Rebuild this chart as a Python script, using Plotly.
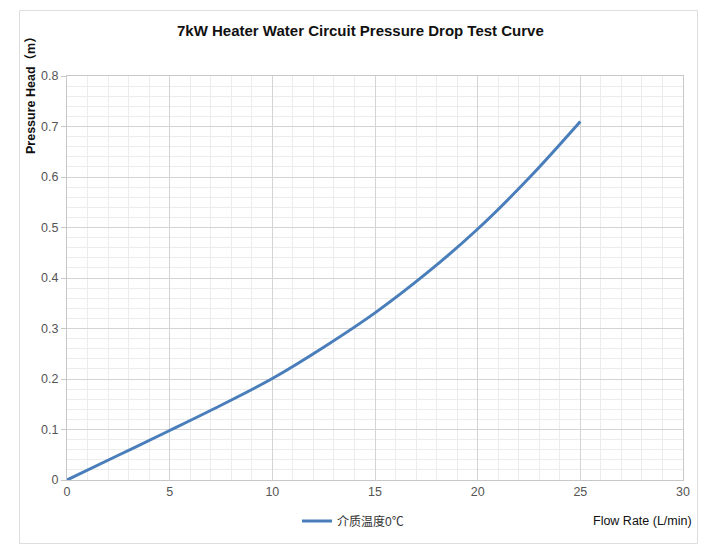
import plotly.graph_objects as go

flow_rate = [0, 2.5, 5, 7.5, 10, 12.5, 15, 17.5, 20, 22.5, 25]
pressure_head = [0, 0.049, 0.098, 0.148, 0.201, 0.263, 0.331, 0.409, 0.497, 0.598, 0.71]
series_name = "介质温度0℃"
title_text = "7kW Heater Water Circuit Pressure Drop Test Curve"
x_title = "Flow Rate (L/min)"
y_title = "Pressure Head（m）"

W, H = 718, 552
L, R, T, B = 67, 35, 76, 72
pw, ph = W - L - R, H - T - B

def px_x(p):
    return (p - L) / pw

def px_y(p):
    return (H - B - p) / ph

FONT = "Liberation Sans, Arial, Noto Sans CJK SC, sans-serif"

fig = go.Figure()
fig.add_trace(go.Scatter(
    x=flow_rate, y=pressure_head, mode="lines", name=series_name,
    line=dict(color="#4a7ebb", width=3, shape="spline", smoothing=1.0),
))

fig.update_layout(
    width=W, height=H,
    margin=dict(l=L, r=R, t=T, b=B),
    paper_bgcolor="white", plot_bgcolor="white",
    font=dict(family=FONT, size=12, color="#555555"),
    showlegend=True,
    legend=dict(orientation="h", x=px_x(297), xanchor="left",
                y=px_y(521), yanchor="middle",
                font=dict(size=12, color="#333333"),
                bgcolor="rgba(0,0,0,0)", itemwidth=30),
    xaxis=dict(range=[0, 30], dtick=5, tick0=0,
               showgrid=True, gridcolor="#d4d4d4", gridwidth=1,
               minor=dict(dtick=1, showgrid=True, gridcolor="#ececec", gridwidth=1),
               showline=True, linecolor="#c8c8c8", linewidth=1, mirror=True,
               zeroline=False, ticks="", tickfont=dict(size=12.5, color="#555555")),
    yaxis=dict(range=[0, 0.8], dtick=0.1, tick0=0,
               showgrid=True, gridcolor="#d4d4d4", gridwidth=1,
               minor=dict(dtick=0.02, showgrid=True, gridcolor="#ececec", gridwidth=1),
               showline=True, linecolor="#c8c8c8", linewidth=1, mirror=True,
               zeroline=False, ticks="outside", ticklen=5, tickcolor="#c8c8c8",
               tickfont=dict(size=12.5, color="#555555")),
    shapes=[dict(type="rect", xref="paper", yref="paper",
                 x0=px_x(19.5), x1=px_x(697.5), y0=px_y(543.5), y1=px_y(10.5),
                 line=dict(color="#dddddd", width=1), fillcolor="rgba(0,0,0,0)",
                 layer="below")],
    annotations=[
        dict(text="<b>" + title_text + "</b>", xref="paper", yref="paper",
             x=px_x(360), y=px_y(31), xanchor="center", yanchor="middle",
             showarrow=False, font=dict(size=15, color="#111111", family=FONT)),
        dict(text="<b>" + y_title + "</b>", xref="paper", yref="paper",
             x=px_x(31), y=px_y(28), xanchor="center", yanchor="top",
             textangle=-90, showarrow=False,
             font=dict(size=12.5, color="#111111", family=FONT)),
        dict(text=x_title, xref="paper", yref="paper",
             x=px_x(694), y=px_y(521), xanchor="right", yanchor="middle",
             showarrow=False, font=dict(size=12.5, color="#111111", family=FONT)),
    ],
)

fig.write_html("out.html")
